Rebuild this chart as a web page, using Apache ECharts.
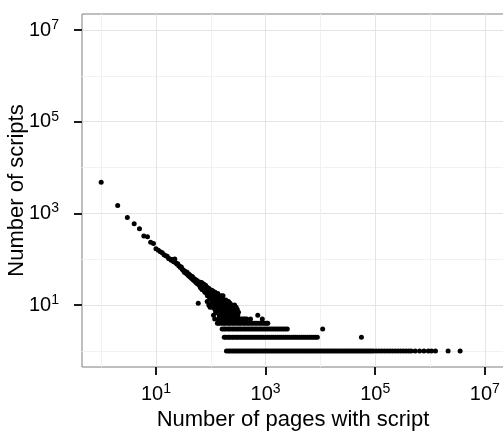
<!DOCTYPE html>
<html>
<head>
<meta charset="utf-8">
<script src="https://cdn.jsdelivr.net/npm/echarts@6/dist/echarts.min.js"></script>
<style>
  html, body { margin: 0; padding: 0; background: #ffffff; }
  #chart { width: 503px; height: 432px; }
</style>
</head>
<body>
<div id="chart"></div>
<script>
// ---- Data (x = number of pages, y = number of scripts) ----
var headPoints = [[1,4800],[2,1480],[3,810],[4,595],[5,465],[6,321],[7,311],[8,234],[9,222],[10,170],
  [11,158],[12,145],[13,138],[14,126],[15,120],[16,116],[17,104],[18,101],[19,95],[20,99],
  [21,88],[22,101],[23,84],[24,79],[25,80],[26,72],[27,70],[28,66],[29,68],[30,61]];

var ridgePoints = [[31,58],[32,57],[33,52],[34,55],[35,50],[36,49],[37,52],[38,46],[39,44],[40,47],
  [41,42],[42,45],[43,40],[44,41],[45,38],[46,42],[47,36],[48,39],[49,35],[50,37],
  [51,33],[52,36],[53,34],[54,31],[55,35],[56,30],[57,33],[58,29],[59,11],[60,31],
  [61,28],[62,32],[63,26],[64,30],[65,24],[66,29],[67,27],[68,31],[69,22],[70,26],
  [71,28],[72,23],[73,25],[74,29],[75,21],[76,24],[77,26],[78,19],[79,23],[80,27],
  [81,22],[82,20],[83,25],[84,18],[85,23],[86,12],[87,16],[88,24],[89,20],[90,22],
  [91,17],[92,10],[93,23],[94,15],[95,20],[96,18],[97,9],[98,14],[99,19],[100,17]];

var clusterPoints = [[101,14],[102,19],[103,11],[104,16],[105,21],[106,13],[107,9],[108,17],[109,12],[110,20],
  [111,15],[112,6],[113,13],[114,18],[115,10],[116,14],[117,12],[118,16],[119,8],[120,19],
  [121,13],[122,11],[123,15],[124,7],[125,14],[126,17],[127,10],[128,12],[129,16],[130,9],
  [131,13],[132,11],[133,15],[134,18],[135,8],[136,12],[137,14],[138,10],[139,13],[140,16],
  [141,9],[142,11],[143,14],[144,7],[145,12],[146,15],[147,10],[148,13],[149,8],[150,11],
  [151,14],[152,9],[153,12],[154,10],[155,16],[156,7],[157,11],[158,13],[159,9],[160,12],
  [161,10],[162,14],[163,8],[164,11],[165,6],[166,13],[167,16],[168,10],[169,12],[170,7],
  [172,11],[175,9],[178,12],[180,8],[183,10],[186,7],[188,13],[191,9],[193,12],[197,11],
  [200,8],[203,10],[206,7],[210,12],[213,9],[220,8],[224,11],[228,10],[232,9],[240,10],
  [245,8],[255,9],[266,8],[272,10],[278,7],[290,9],[297,7],[304,8],[320,7]];

// pages values of scripts sharing the same small count
var pagesCount8 = [145, 205, 240];
var pagesCount7 = [125, 158, 195, 230, 258];
var pagesCount6 = [142, 176, 205, 238, 262, 285, 310, 720];
var pagesCount5 = [118, 139, 162, 188, 214, 243, 271, 300, 322, 346, 371, 398, 425, 452, 530, 870];
var pagesCount4 = [132, 141, 154, 169, 181, 198, 217, 233, 256, 275, 302, 329, 352, 388, 418, 459,
  493, 541, 583, 640, 688, 756, 815, 892, 961, 1048, 1097];
var pagesCount3 = [161, 175, 189, 207, 222, 244, 263, 287, 311, 339, 367, 401, 433, 473, 512, 558,
  605, 659, 715, 779, 844, 920, 997, 1086, 1179, 1283, 1392, 1516, 1645, 1791, 1944, 2116, 2300, 2490, 11000];
var pagesCount2 = [176, 189, 207, 223, 245, 264, 289, 312, 341, 369, 403, 436, 476, 515, 562, 609,
  664, 719, 784, 850, 926, 1004, 1094, 1187, 1292, 1402, 1526, 1657, 1803, 1958, 2130, 2313, 2517,
  2733, 2973, 3230, 3513, 3816, 4151, 4509, 4904, 5329, 5794, 6296, 6846, 7440, 8089, 8790, 56000];
var pagesCount1 = [193, 211, 228, 249, 270, 293, 320, 347, 378, 410, 447, 485, 528, 573, 624, 677,
  737, 800, 871, 946, 1030, 1118, 1217, 1322, 1438, 1562, 1700, 1846, 2008, 2181, 2373, 2578, 2805,
  3047, 3315, 3601, 3918, 4255, 4630, 5030, 5472, 5944, 6466, 7024, 7642, 8301, 9030, 9810, 10670,
  11590, 12610, 13700, 14900, 16190, 17610, 19130, 20810, 22600, 24590, 26710, 29060, 31570, 34340,
  37300, 40580, 44080, 47950, 52090, 56660, 61550, 66950, 72740, 79110, 85960, 93490,
  104700, 117300, 131400, 147100, 164800, 184600, 206700, 231500, 259300, 290400, 325300, 364300,
  408000, 452000, 537000, 646000, 776000, 933000, 1070000, 1259000, 2138000, 3548000];

var majorTicks = [10, 1000, 100000, 10000000];
var minorTicks = [1, 100, 10000, 1000000];
var axisMin = 0.4467;      // 10^-0.35
var axisMax = 22387211;    // 10^7.35

// ---- build the scatter data ----
var points = [].concat(headPoints, ridgePoints, clusterPoints);
var bands = [[1, pagesCount1], [2, pagesCount2], [3, pagesCount3], [4, pagesCount4],
             [5, pagesCount5], [6, pagesCount6], [7, pagesCount7], [8, pagesCount8]];
bands.forEach(function (b) {
  b[1].forEach(function (x) { points.push([x, b[0]]); });
});

var FONT = 'Liberation Sans';
function powLabel(v) {
  var e = Math.round(Math.log(v) / Math.LN10);
  return '{b|10}{s|' + e + '}';
}
function richLabel() {
  return {
    b: { fontSize: 20, lineHeight: 24, fontFamily: FONT, color: '#000' },
    s: { fontSize: 14, lineHeight: 12, fontFamily: FONT, color: '#000', verticalAlign: 'top' }
  };
}

function baseAxis(extra) {
  var a = {
    type: 'log', logBase: 10, min: axisMin, max: axisMax,
    axisLine: { show: false },
    axisTick: { show: true, customValues: majorTicks, length: 8, lineStyle: { color: '#1a1a1a', width: 2 } },
    splitLine: { show: true, lineStyle: { color: '#e4e4e4', width: 1 } },
    minorTick: { show: false }, minorSplitLine: { show: false }
  };
  for (var k in extra) a[k] = extra[k];
  return a;
}
function minorAxis(pos) {
  return {
    type: 'log', logBase: 10, min: axisMin, max: axisMax, position: pos,
    axisLine: { show: false },
    axisTick: { show: false, customValues: minorTicks },
    axisLabel: { show: false, customValues: minorTicks },
    splitLine: { show: true, lineStyle: { color: '#f1f1f1', width: 1 } }
  };
}

var chart = echarts.init(document.getElementById('chart'), null, { renderer: 'canvas' });
chart.setOption({
  animation: false,
  backgroundColor: '#ffffff',
  grid: {
    left: 82, top: 14, right: -1, bottom: 65,
    show: true, borderColor: '#7f7f7f', borderWidth: 1, backgroundColor: 'transparent',
    outerBoundsMode: 'none', containLabel: false
  },
  xAxis: [
    baseAxis({
      position: 'bottom',
      name: 'Number of pages with script', nameLocation: 'middle', nameGap: 42,
      nameMoveOverlap: false,
      nameTextStyle: { fontSize: 22, fontFamily: FONT, color: '#000' },
      axisLabel: { customValues: majorTicks, formatter: powLabel, rich: richLabel(), margin: 15,
                   fontSize: 20, fontFamily: FONT, color: '#000' }
    }),
    minorAxis('top')
  ],
  yAxis: [
    baseAxis({
      position: 'left',
      name: 'Number of scripts', nameLocation: 'middle', nameGap: 54,
      nameMoveOverlap: false,
      nameTextStyle: { fontSize: 22, fontFamily: FONT, color: '#000' },
      axisLabel: { customValues: majorTicks, formatter: powLabel, rich: richLabel(), margin: 23,
                   fontSize: 20, fontFamily: FONT, color: '#000', align: 'right' }
    }),
    minorAxis('right')
  ],
  series: [{
    type: 'scatter',
    xAxisIndex: 0, yAxisIndex: 0,
    symbol: 'circle', symbolSize: 5,
    itemStyle: { color: '#000000', opacity: 1 },
    data: points,
    silent: true
  }]
});
</script>
</body>
</html>
